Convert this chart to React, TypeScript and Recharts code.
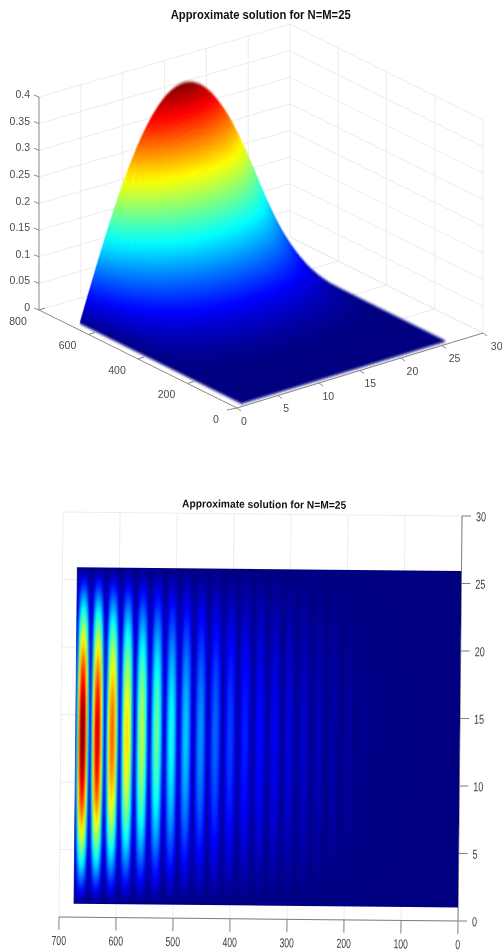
import React from 'react'

import {
  Area,
  CartesianGrid,
  ComposedChart,
  Line,
  ReferenceArea,
  Scatter,
  XAxis,
  YAxis,
} from 'recharts'

const W = 502
const H = 952
const FONT = '"Liberation Sans", Arial, sans-serif'

const titleText = 'Approximate solution for N=M=25'

// cross section along the second axis, same for both panels
const yLevels = [
  1, 1.5, 2, 2.5, 3, 3.5, 4, 4.5, 5, 5.5, 6, 6.5, 7, 7.5, 8, 8.5, 9, 9.5, 10, 10.5, 11, 11.5, 12, 12.5, 13,
  13.5, 14, 14.5, 15, 15.5, 16, 16.5, 17, 17.5, 18, 18.5, 19, 19.5, 20, 20.5, 21, 21.5, 22, 22.5, 23, 23.5, 24,
  24.5, 25, 25.5, 26,
]
const crossProfile = [
  0, 0.063, 0.125, 0.187, 0.249, 0.309, 0.368, 0.426, 0.482, 0.536, 0.588, 0.637, 0.685, 0.729, 0.771, 0.809,
  0.844, 0.876, 0.905, 0.93, 0.951, 0.969, 0.982, 0.992, 0.998, 1, 0.998, 0.992, 0.982, 0.969, 0.951, 0.93,
  0.905, 0.876, 0.844, 0.809, 0.771, 0.729, 0.685, 0.637, 0.588, 0.536, 0.482, 0.426, 0.368, 0.309, 0.249,
  0.187, 0.125, 0.063, 0,
]

// surface panel: slices back to front
const sliceX = [
  670, 665, 660, 655, 650, 645, 640, 635, 630, 625, 620, 615, 610, 605, 600, 595, 590, 585, 580, 575, 570, 565,
  560, 555, 550, 545, 540, 535, 530, 525, 520, 515, 510, 505, 500, 495, 490, 485, 480, 475, 470, 465, 460, 455,
  450, 445, 440, 435, 430, 425, 420, 415, 410, 405, 400, 395, 390, 385, 380, 375, 370, 365, 360, 355, 350, 340,
  330, 320, 310, 300, 285, 270, 255, 240, 225, 210, 195, 180, 165, 150, 135, 120, 105, 90, 75, 60, 45, 30, 15,
]
const sliceZ = [
  0.395, 0.385, 0.375, 0.366, 0.356, 0.346, 0.336, 0.327, 0.317, 0.307, 0.298, 0.288, 0.279, 0.27, 0.261, 0.253,
  0.245, 0.237, 0.229, 0.221, 0.214, 0.206, 0.199, 0.192, 0.185, 0.178, 0.172, 0.165, 0.159, 0.153, 0.147, 0.142,
  0.136, 0.131, 0.126, 0.121, 0.116, 0.111, 0.106, 0.102, 0.098, 0.094, 0.09, 0.086, 0.082, 0.078, 0.075, 0.071,
  0.068, 0.065, 0.061, 0.058, 0.055, 0.052, 0.05, 0.047, 0.044, 0.042, 0.04, 0.037, 0.035, 0.033, 0.031, 0.029,
  0.027, 0.024, 0.021, 0.018, 0.015, 0.013, 0.01, 0.0075, 0.0055, 0.004, 0.003, 0.002, 0.0012, 0.0008, 0.0004,
  0.0002, 0, 0, 0, 0, 0, 0, 0, 0, 0,
]

const zTicks = [0, 0.05, 0.1, 0.15, 0.2, 0.25, 0.3, 0.35, 0.4]
const xTicks3d = [0, 200, 400, 600, 800]
const yTicks3d = [0, 5, 10, 15, 20, 25, 30]

// heat panel: stripes from the left
const ridgeX = [
  662, 636, 610, 584, 558, 532, 506, 481, 455, 429, 403, 377, 351, 325, 300, 274, 248, 222, 196, 170, 144, 118,
  92, 66, 40, 14,
]
const ridgePeak = [
  0.405, 0.37, 0.315, 0.265, 0.225, 0.19, 0.155, 0.13, 0.108, 0.09, 0.075, 0.062, 0.052, 0.044, 0.036, 0.029,
  0.022, 0.016, 0.011, 0.007, 0.004, 0.002, 0.001, 0, 0, 0,
]
const ridgeTrough = [
  0.04, 0.04, 0.038, 0.035, 0.032, 0.028, 0.025, 0.022, 0.019, 0.016, 0.014, 0.012, 0.01, 0.008, 0.006, 0.004,
  0.003, 0.002, 0.001, 0, 0, 0, 0, 0, 0, 0,
]
const ridgeShape = [0.08, 0.32, 0.72]
const heatEdge = 0.03
const heatMaxX = 675
const heatXTicks = [0, 100, 200, 300, 400, 500, 600, 700]
const heatYTicks = [0, 5, 10, 15, 20, 25, 30]

const clamp = (v: number) => Math.max(0, Math.min(1, v))
const jet = (value: number) => {
  const t = clamp(value / 0.4)
  const c = (k: number) => Math.round(255 * clamp(1.5 - Math.abs(4 * t - k)))
  return `rgb(${c(3)},${c(2)},${c(1)})`
}

// floor corners of the 3D box, plus z height
const O = [237, 408]
const A = [39, 310]
const B = [483, 333]
const C = [290, 237]
const project = (x: number, y: number, z: number) => {
  const u = x / 800
  const v = y / 30
  const at = (i: number) =>
    O[i] + u * (A[i] - O[i]) + v * (B[i] - O[i]) + u * v * (C[i] - A[i] - B[i] + O[i])
  return { px: at(0), py: at(1) - (z / 0.4) * 213 }
}

const segments: { px: number; py: number }[][] = []
const addSeg = (a: number[], b: number[]) => segments.push([project(a[0], a[1], a[2]), project(b[0], b[1], b[2])])
zTicks.forEach((z) => {
  addSeg([800, 0, z], [800, 30, z])
  addSeg([800, 30, z], [0, 30, z])
})
yTicks3d.slice(1).forEach((y) => {
  addSeg([800, y, 0], [800, y, 0.4])
  addSeg([800, y, 0], [0, y, 0])
})
xTicks3d.slice(0, 4).forEach((x) => {
  addSeg([x, 30, 0], [x, 30, 0.4])
  addSeg([x, 30, 0], [x, 0, 0])
})

const axisSegs = [
  [project(800, 0, 0), project(800, 0, 0.4)],
  [project(800, 0, 0), project(0, 0, 0)],
  [project(0, 0, 0), project(0, 30, 0)],
]
const offset = (p: { px: number; py: number }, dx: number, dy: number) => ({ px: p.px + dx, py: p.py + dy })
const tickSegs = [
  ...zTicks.map((z) => [project(800, 0, z), offset(project(800, 0, z), -5, -2)]),
  ...xTicks3d.map((x) => [project(x, 0, 0), offset(project(x, 0, 0), x === 0 ? -10 : 6, x === 0 ? 2 : -2)]),
  ...yTicks3d.map((y) => [project(0, y, 0), offset(project(0, y, 0), 4, 3)]),
]

const surfaceLabels = [
  ...zTicks.map((z) => ({ ...offset(project(800, 0, z), -9, -3), label: String(z), anchor: 'end' })),
  ...xTicks3d.map((x) => ({ ...offset(project(x, 0, 0), -21, 10.5), label: String(x), anchor: 'middle' })),
  ...yTicks3d.map((y) => ({ ...offset(project(0, y, 0), 7 + y / 4.5, 12.7), label: String(y), anchor: 'middle' })),
]

// each slice reaches down to the base of the next one so the flat part is filled
const sliceRows = sliceX.map((x, i) =>
  yLevels.map((y, j) => {
    const top = project(x, y, sliceZ[i] * crossProfile[j])
    const base = project(x, y, 0)
    const next = i + 1 < sliceX.length && j > 0 ? project(sliceX[i + 1], y, 0).py + 1 : base.py
    return { px: base.px, band: [next, top.py] }
  })
)

// flat navy floor under the slices, so their ends leave no notches
const floorRow = (() => {
  const backX = sliceX[0]
  const frontX = sliceX[sliceX.length - 1]
  const yFirst = yLevels[0]
  const yLast = yLevels[yLevels.length - 1]
  const L = project(backX, yFirst, 0)
  const F = project(frontX, yFirst, 0)
  const K = project(backX, yLast, 0)
  const R = project(frontX, yLast, 0)
  const along = (a: typeof L, b: typeof L, px: number) => a.py + ((b.py - a.py) * (px - a.px)) / (b.px - a.px)
  return [
    { px: L.px, band: [L.py, L.py] },
    { px: F.px, band: [F.py, along(L, K, F.px)] },
    { px: K.px, band: [along(F, R, K.px), K.py] },
    { px: R.px, band: [R.py, R.py] },
  ]
})()

const heatStops = (() => {
  const knots: { x: number; v: number }[] = [{ x: heatMaxX, v: heatEdge }]
  ridgeX.forEach((x, i) => {
    knots.push({ x, v: ridgePeak[i] })
    const next = i + 1 < ridgeX.length ? ridgeX[i + 1] : 0
    knots.push({ x: (x + next) / 2, v: ridgeTrough[i] })
  })
  const out: { x: number; v: number }[] = []
  knots.forEach((k, i) => {
    out.push(k)
    const n = knots[i + 1]
    if (!n) return
    // peak side is flat, trough side is sharp
    const down = n.v < k.v
    ridgeShape.forEach((s, q) => {
      const f = down ? s : 1 - ridgeShape[2 - q]
      out.push({ x: k.x + ((n.x - k.x) * (q + 1)) / 4, v: k.v + (n.v - k.v) * f })
    })
  })
  return out
})()

const heatRows = [
  { y1: 26, y2: 27.5, level: 0 },
  ...yLevels.map((y, j) => ({ y1: y - 0.3, y2: y + 0.3, level: crossProfile[j] })),
  { y1: -0.5, y2: 1, level: 0 },
]

const plane = { top: 0, right: 0, bottom: 0, left: 0 }
const heatMargin = { top: 516, right: 44, bottom: 31, left: 59 }

const PlaneAxes = () => (
  <>
    <XAxis dataKey="px" type="number" domain={[0, W]} hide allowDataOverflow />
    <YAxis dataKey="py" type="number" domain={[0, H]} reversed hide allowDataOverflow />
  </>
)

const SurfaceLabel = (p: any) => (
  <text
    x={p.cx}
    y={p.cy}
    textAnchor={p.payload.anchor}
    dominantBaseline="central"
    fontFamily={FONT}
    fontSize={10.5}
    fill="#4a4a4a"
  >
    {p.payload.label}
  </text>
)

const HeatXTick = (p: any) => (
  <text
    x={p.x}
    y={p.y + 13}
    textAnchor="middle"
    fontFamily={FONT}
    fontSize={13}
    fill="#404040"
    textLength={String(p.payload.value).length * 4.8}
    lengthAdjust="spacingAndGlyphs"
  >
    {p.payload.value}
  </text>
)

const HeatYTick = (p: any) => (
  <text
    x={p.x + 3}
    y={p.y + 5}
    textAnchor="start"
    fontFamily={FONT}
    fontSize={13}
    fill="#404040"
    textLength={String(p.payload.value).length * 5}
    lengthAdjust="spacingAndGlyphs"
  >
    {p.payload.value}
  </text>
)

const layer: React.CSSProperties = { position: 'absolute', left: 0, top: 0, width: W, height: H }

export default function App() {
  return (
    <div style={{ ...layer, overflow: 'hidden', background: '#fff', filter: 'blur(0.4px)' }}>
      <svg width={0} height={0} style={{ position: 'absolute' }}>
        <filter id="softSurface" x="0" y="0" width="100%" height="100%" colorInterpolationFilters="sRGB">
          <feGaussianBlur stdDeviation="0 1.4" />
        </filter>
        <filter id="softHeat" x="0" y="0" width="100%" height="100%" colorInterpolationFilters="sRGB">
          <feGaussianBlur stdDeviation="0 3" />
        </filter>
      </svg>

      {/* surface panel */}
      <div style={layer}>
        <ComposedChart width={W} height={H} margin={plane} data={segments[0]}>
          {PlaneAxes()}
          {segments.map((seg, i) => (
            <Line key={i} data={seg} dataKey="py" stroke="#ececec" strokeWidth={1} dot={false} isAnimationActive={false} />
          ))}
          {axisSegs.map((seg, i) => (
            <Line key={i} data={seg} dataKey="py" stroke="#8a8a8a" strokeWidth={1} dot={false} isAnimationActive={false} />
          ))}
          {tickSegs.map((seg, i) => (
            <Line key={i} data={seg} dataKey="py" stroke="#8a8a8a" strokeWidth={1} dot={false} isAnimationActive={false} />
          ))}
          <Scatter data={surfaceLabels} dataKey="py" shape={SurfaceLabel} isAnimationActive={false} />
        </ComposedChart>
      </div>
      <div style={{ ...layer, filter: 'url(#softSurface)' }}>
        <ComposedChart width={W} height={H} margin={plane} data={sliceRows[0]}>
          <defs>
            {sliceRows.map((_, i) => (
              <linearGradient key={i} id={`slice${i}`} x1="0" y1="0" x2="1" y2="0">
                {yLevels.map((y, j) => (
                  <stop key={y} offset={(y - 1) / 25} stopColor={jet(sliceZ[i] * crossProfile[j])} />
                ))}
              </linearGradient>
            ))}
          </defs>
          {PlaneAxes()}
          <Area
            data={floorRow}
            dataKey="band"
            type="linear"
            stroke="none"
            fill={jet(0)}
            fillOpacity={1}
            dot={false}
            activeDot={false}
            isAnimationActive={false}
          />
          {sliceRows.map((row, i) => (
            <Area
              key={i}
              data={row}
              dataKey="band"
              type="linear"
              stroke="none"
              fill={`url(#slice${i})`}
              fillOpacity={1}
              dot={false}
              activeDot={false}
              isAnimationActive={false}
            />
          ))}
        </ComposedChart>
      </div>
      <svg width={W} height={40} style={{ position: 'absolute', left: 0, top: 0 }}>
        <text
          x={170.7}
          y={19}
          fontFamily={FONT}
          fontWeight="bold"
          fontSize={12}
          fill="#111"
          textLength={180}
          lengthAdjust="spacingAndGlyphs"
        >
          {titleText}
        </text>
      </svg>

      {/* heat panel, tilted slightly like the source */}
      <div style={{ ...layer, transform: 'rotate(0.57deg)', transformOrigin: '458px 921px' }}>
        <div style={layer}>
          <ComposedChart width={W} height={H} margin={{ top: 516, right: 0, bottom: 0, left: 59 }} data={heatRows}>
            <CartesianGrid stroke="#ececec" />
            <XAxis
              type="number"
              dataKey="y1"
              domain={[0, 700]}
              ticks={heatXTicks}
              reversed
              height={31}
              tickSize={13}
              tick={HeatXTick}
              stroke="#808080"
              allowDataOverflow
            />
            <YAxis
              type="number"
              orientation="right"
              domain={[0, 30]}
              ticks={heatYTicks}
              width={44}
              tickSize={9}
              tick={HeatYTick}
              stroke="#808080"
              allowDataOverflow
            />
          </ComposedChart>
        </div>
        <div
          style={{
            ...layer,
            filter: 'url(#softHeat)',
            clipPath: 'inset(571px 44px 44.5px 73.25px)',
          }}
        >
          <ComposedChart width={W} height={H} margin={heatMargin} data={heatRows}>
            <defs>
              {heatRows.map((row, i) => (
                <linearGradient key={i} id={`row${i}`} x1="0" y1="0" x2="1" y2="0">
                  {heatStops.map((s, q) => (
                    <stop key={q} offset={(heatMaxX - s.x) / heatMaxX} stopColor={jet(s.v * row.level)} />
                  ))}
                </linearGradient>
              ))}
            </defs>
            <XAxis type="number" dataKey="y1" domain={[0, 700]} reversed hide allowDataOverflow />
            <YAxis type="number" domain={[0, 30]} hide allowDataOverflow />
            {heatRows.map((row, i) => (
              <ReferenceArea
                key={i}
                x1={heatMaxX}
                x2={0}
                y1={row.y1}
                y2={row.y2}
                stroke="none"
                fill={`url(#row${i})`}
                fillOpacity={1}
                ifOverflow="visible"
              />
            ))}
          </ComposedChart>
        </div>
        <svg width={W} height={H} style={{ position: 'absolute', left: 0, top: 0, pointerEvents: 'none' }}>
          <text
            x={178}
            y={510}
            fontFamily={FONT}
            fontWeight="bold"
            fontSize={11}
            fill="#111"
            textLength={164}
            lengthAdjust="spacingAndGlyphs"
          >
            {titleText}
          </text>
        </svg>
      </div>
    </div>
  )
}
